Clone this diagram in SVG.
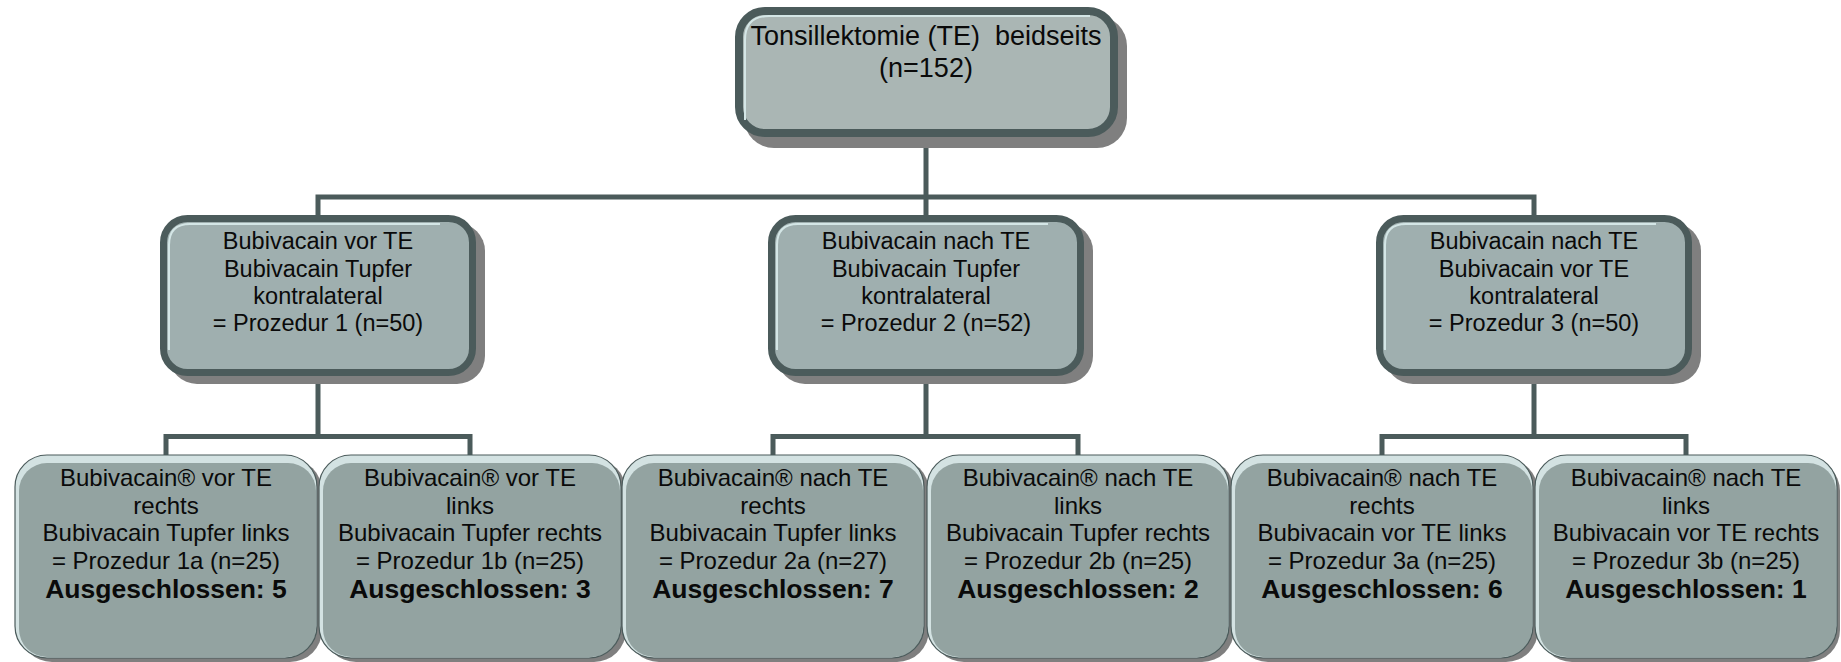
<svg xmlns="http://www.w3.org/2000/svg" width="1841" height="662" viewBox="0 0 1841 662">
<style>
.con{fill:none;stroke:#4b5b5b;stroke-width:5;stroke-linejoin:miter}
.sh{fill:#7f7f7f}
.topbox{fill:#aab6b4;stroke:#4b5b5b;stroke-width:8}
.midbox{fill:#9fafaf;stroke:#4b5b5b;stroke-width:7}
.hl{fill:none;stroke:#d4e6e6;stroke-width:2}
.botlight{fill:#d3e2e2}
.botfill{fill:#93a3a1}
.botedge{fill:none;stroke:#4b5b5b;stroke-width:1.2}
text{font-family:"Liberation Sans",Arial,sans-serif;fill:#0a0a0a;text-anchor:middle}
.t1{font-size:27px;white-space:pre}
.t2{font-size:23.5px}
.t3{font-size:24px}
.b{font-size:26.5px;font-weight:bold}
</style>
<g id="connectors">
<path class="con" d="M926 140 V218 M318 218 V197 H1534 V218"/>
<path class="con" d="M318 378 V436.5 M166 458 V436.5 H470 V458"/>
<path class="con" d="M926 378 V436.5 M773 458 V436.5 H1078 V458"/>
<path class="con" d="M1534 378 V436.5 M1382 458 V436.5 H1686 V458"/>
</g>
<g id="n0">
<rect class="sh" x="744" y="16" width="383" height="132" rx="30"/>
<rect class="topbox" x="739" y="11" width="375" height="122" rx="26"/>
<path class="hl" d="M745 120 V40 Q745 16 769 16 H1090"/>
<text class="t1" x="926" y="45">Tonsillektomie (TE)  beidseits</text>
<text class="t1" x="926" y="77">(n=152)</text>
</g>
<g id="n1">
<rect class="sh" x="169" y="223" width="316" height="161" rx="28"/>
<rect class="midbox" x="163.5" y="218.5" width="309" height="154" rx="24"/>
<path class="hl" d="M169 350 V245 Q169 224 190 224 H440"/>
<text class="t2" x="318" y="249">Bubivacain vor TE</text>
<text class="t2" x="318" y="276.5">Bubivacain Tupfer</text>
<text class="t2" x="318" y="304">kontralateral</text>
<text class="t2" x="318" y="331">= Prozedur 1 (n=50)</text>
</g>
<g id="n2">
<rect class="sh" x="777" y="223" width="316" height="161" rx="28"/>
<rect class="midbox" x="771.5" y="218.5" width="309" height="154" rx="24"/>
<path class="hl" d="M777 350 V245 Q777 224 798 224 H1048"/>
<text class="t2" x="926" y="249">Bubivacain nach TE</text>
<text class="t2" x="926" y="276.5">Bubivacain Tupfer</text>
<text class="t2" x="926" y="304">kontralateral</text>
<text class="t2" x="926" y="331">= Prozedur 2 (n=52)</text>
</g>
<g id="n3">
<rect class="sh" x="1385" y="223" width="316" height="161" rx="28"/>
<rect class="midbox" x="1379.5" y="218.5" width="309" height="154" rx="24"/>
<path class="hl" d="M1385 350 V245 Q1385 224 1406 224 H1656"/>
<text class="t2" x="1534" y="249">Bubivacain nach TE</text>
<text class="t2" x="1534" y="276.5">Bubivacain vor TE</text>
<text class="t2" x="1534" y="304">kontralateral</text>
<text class="t2" x="1534" y="331">= Prozedur 3 (n=50)</text>
</g>
<g id="n1a">
<rect class="sh" x="20" y="459" width="302" height="203" rx="32"/>
<rect class="botlight" x="15" y="455" width="302" height="203" rx="32"/>
<rect class="botfill" x="19" y="463" width="297" height="194" rx="28"/>
<rect class="botedge" x="15" y="455" width="302" height="203" rx="32"/>
<text class="t3" x="166" y="486">Bubivacain® vor TE</text>
<text class="t3" x="166" y="514">rechts</text>
<text class="t3" x="166" y="541">Bubivacain Tupfer links</text>
<text class="t3" x="166" y="569">= Prozedur 1a (n=25)</text>
<text class="b" x="166" y="598">Ausgeschlossen: 5</text>
</g>
<g id="n1b">
<rect class="sh" x="324" y="459" width="302" height="203" rx="32"/>
<rect class="botlight" x="319" y="455" width="302" height="203" rx="32"/>
<rect class="botfill" x="323" y="463" width="297" height="194" rx="28"/>
<rect class="botedge" x="319" y="455" width="302" height="203" rx="32"/>
<text class="t3" x="470" y="486">Bubivacain® vor TE</text>
<text class="t3" x="470" y="514">links</text>
<text class="t3" x="470" y="541">Bubivacain Tupfer rechts</text>
<text class="t3" x="470" y="569">= Prozedur 1b (n=25)</text>
<text class="b" x="470" y="598">Ausgeschlossen: 3</text>
</g>
<g id="n2a">
<rect class="sh" x="627" y="459" width="302" height="203" rx="32"/>
<rect class="botlight" x="622" y="455" width="302" height="203" rx="32"/>
<rect class="botfill" x="626" y="463" width="297" height="194" rx="28"/>
<rect class="botedge" x="622" y="455" width="302" height="203" rx="32"/>
<text class="t3" x="773" y="486">Bubivacain® nach TE</text>
<text class="t3" x="773" y="514">rechts</text>
<text class="t3" x="773" y="541">Bubivacain Tupfer links</text>
<text class="t3" x="773" y="569">= Prozedur 2a (n=27)</text>
<text class="b" x="773" y="598">Ausgeschlossen: 7</text>
</g>
<g id="n2b">
<rect class="sh" x="932" y="459" width="302" height="203" rx="32"/>
<rect class="botlight" x="927" y="455" width="302" height="203" rx="32"/>
<rect class="botfill" x="931" y="463" width="297" height="194" rx="28"/>
<rect class="botedge" x="927" y="455" width="302" height="203" rx="32"/>
<text class="t3" x="1078" y="486">Bubivacain® nach TE</text>
<text class="t3" x="1078" y="514">links</text>
<text class="t3" x="1078" y="541">Bubivacain Tupfer rechts</text>
<text class="t3" x="1078" y="569">= Prozedur 2b (n=25)</text>
<text class="b" x="1078" y="598">Ausgeschlossen: 2</text>
</g>
<g id="n3a">
<rect class="sh" x="1236" y="459" width="302" height="203" rx="32"/>
<rect class="botlight" x="1231" y="455" width="302" height="203" rx="32"/>
<rect class="botfill" x="1235" y="463" width="297" height="194" rx="28"/>
<rect class="botedge" x="1231" y="455" width="302" height="203" rx="32"/>
<text class="t3" x="1382" y="486">Bubivacain® nach TE</text>
<text class="t3" x="1382" y="514">rechts</text>
<text class="t3" x="1382" y="541">Bubivacain vor TE links</text>
<text class="t3" x="1382" y="569">= Prozedur 3a (n=25)</text>
<text class="b" x="1382" y="598">Ausgeschlossen: 6</text>
</g>
<g id="n3b">
<rect class="sh" x="1540" y="459" width="300" height="203" rx="32"/>
<rect class="botlight" x="1535" y="455" width="302" height="203" rx="32"/>
<rect class="botfill" x="1539" y="463" width="297" height="194" rx="28"/>
<rect class="botedge" x="1535" y="455" width="302" height="203" rx="32"/>
<text class="t3" x="1686" y="486">Bubivacain® nach TE</text>
<text class="t3" x="1686" y="514">links</text>
<text class="t3" x="1686" y="541">Bubivacain vor TE rechts</text>
<text class="t3" x="1686" y="569">= Prozedur 3b (n=25)</text>
<text class="b" x="1686" y="598">Ausgeschlossen: 1</text>
</g>
</svg>
